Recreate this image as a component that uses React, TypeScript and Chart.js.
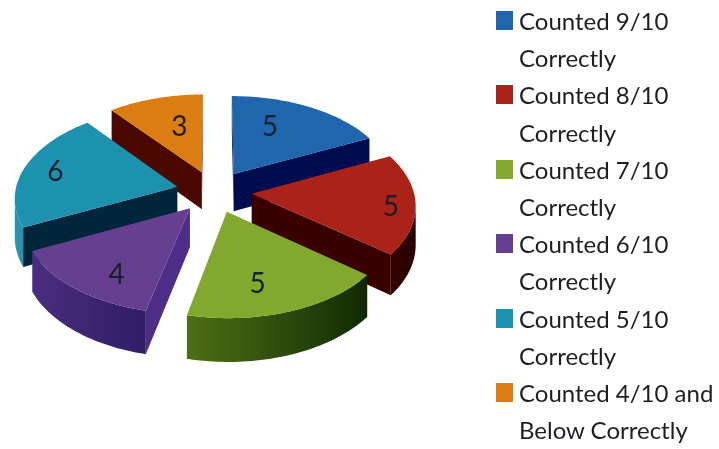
import React, { useEffect, useRef } from "react";
import { Chart, registerables } from "chart.js";

Chart.register(...registerables);

// Survey results, clockwise from twelve o'clock.
const categories = [
  ["Counted 9/10", "Correctly"],
  ["Counted 8/10", "Correctly"],
  ["Counted 7/10", "Correctly"],
  ["Counted 6/10", "Correctly"],
  ["Counted 5/10", "Correctly"],
  ["Counted 4/10 and", "Below Correctly"],
];
const counts = [5, 5, 5, 4, 6, 3];

// Slice palette: top face, flat cut wall, curved rim at left-lit and right-shaded ends.
const topColors = ["#1f66ad", "#aa2218", "#82a82d", "#673f91", "#1d92af", "#dc7d12"];
const wallColors = ["#000c50", "#3a0000", "#1a3a00", "#4d2d87", "#00263c", "#4a0800"];
const rimLeft = [[20, 60, 130], [138, 24, 16], [124, 165, 32], [78, 48, 130], [44, 150, 175], [130, 60, 0]];
const rimRight = [[0, 10, 60], [40, 0, 0], [2, 27, 0], [0, 0, 58], [0, 30, 50], [60, 10, 0]];

// Where each count sits on its slice, in pie-radius units from the slice tip.
const labelSpots = [[0.25, -0.58], [0.84, 0.14], [0.165, 0.7], [-0.4, 0.66], [-0.775, -0.17], [-0.155, -0.56]];

// Tilted view of the pie.
const SQUASH_X = 0.945;
const SQUASH_Y = 0.525;
const PERSPECTIVE = 0.1086;
const DEPTH = 38;
const SLICE_OFFSET = 40;

type Pt = { x: number; y: number; s: number };

const tiltedPie = {
  id: "tiltedPie",
  beforeDatasetDraw(chart: any, args: any) {
    const { ctx } = chart;
    const arcs = args.meta.data;

    const geometry = arcs.map((arc: any, i: number) => {
      const { x, y, startAngle, endAngle, outerRadius: R } = arc.getProps(
        ["x", "y", "startAngle", "endAngle", "outerRadius"],
        true
      );
      const mid = (startAngle + endAngle) / 2;
      const e = SLICE_OFFSET / R;
      const tipU = e * Math.cos(mid);
      const tipV = e * Math.sin(mid);
      const project = (u: number, v: number): Pt => {
        const s = 1 / (1 - PERSPECTIVE * v);
        return { x: x + R * SQUASH_X * u * s, y: y + R * SQUASH_Y * v * s, s };
      };
      const steps = 48;
      const rim: { p: Pt; nx: number }[] = [];
      for (let k = 0; k <= steps; k++) {
        const a = startAngle + ((endAngle - startAngle) * k) / steps;
        rim.push({ p: project(tipU + Math.cos(a), tipV + Math.sin(a)), nx: Math.cos(a) });
      }
      return { i, tipU, tipV, project, tip: project(tipU, tipV), rim, depthKey: Math.sin(mid) };
    });

    const flatWall = (a: Pt, b: Pt, fill: string) => {
      if (b.x >= a.x) return; // faces away from the viewer
      ctx.beginPath();
      ctx.moveTo(a.x, a.y);
      ctx.lineTo(b.x, b.y);
      ctx.lineTo(b.x, b.y + DEPTH * b.s);
      ctx.lineTo(a.x, a.y + DEPTH * a.s);
      ctx.closePath();
      ctx.fillStyle = fill;
      ctx.fill();
    };

    // The visible part of a slice's rim, shaded left to right as one surface.
    const rimWall = (i: number, rim: { p: Pt; nx: number }[]) => {
      const front = rim.filter((r, k) => {
        const next = rim[k + 1] || rim[k];
        const prev = rim[k - 1] || rim[k];
        return next.p.x < r.p.x || prev.p.x > r.p.x;
      });
      if (front.length < 2) return;
      const x0 = front[front.length - 1].p.x;
      const x1 = front[0].p.x;
      const shade = ctx.createLinearGradient(x0, 0, x1, 0);
      front.forEach((r, k) => {
        if (k % 4 !== 0 && k !== front.length - 1) return;
        const t = (r.nx + 1) / 2;
        const c = rimLeft[i].map((v: number, n: number) => Math.round(v + (rimRight[i][n] - v) * t));
        shade.addColorStop((r.p.x - x0) / (x1 - x0), `rgb(${c[0]},${c[1]},${c[2]})`);
      });
      ctx.beginPath();
      front.forEach((r, k) => (k ? ctx.lineTo(r.p.x, r.p.y) : ctx.moveTo(r.p.x, r.p.y)));
      [...front].reverse().forEach((r) => ctx.lineTo(r.p.x, r.p.y + DEPTH * r.p.s));
      ctx.closePath();
      ctx.fillStyle = shade;
      ctx.fill();
    };

    // Paint far slices first so nearer ones overlap them.
    [...geometry]
      .sort((a: any, b: any) => a.depthKey - b.depthKey)
      .forEach((g: any) => {
        const { i, rim, tip } = g;
        rimWall(i, rim);
        flatWall(tip, rim[0].p, wallColors[i]);
        flatWall(rim[rim.length - 1].p, tip, wallColors[i]);

        ctx.beginPath();
        ctx.moveTo(tip.x, tip.y);
        rim.forEach((r: any) => ctx.lineTo(r.p.x, r.p.y));
        ctx.closePath();
        ctx.fillStyle = topColors[i];
        ctx.fill();
      });

    // Counts on the top faces.
    ctx.font = '28px Lato, "Open Sans", sans-serif';
    ctx.textAlign = "center";
    ctx.textBaseline = "middle";
    ctx.fillStyle = "#15202c";
    geometry.forEach((g: any) => {
      const [du, dv] = labelSpots[g.i];
      const p = g.project(g.tipU + du, g.tipV + dv);
      ctx.fillText(String(counts[g.i]), p.x, p.y);
    });
    return false;
  },
};

export default function App() {
  const ref = useRef<HTMLCanvasElement>(null);

  useEffect(() => {
    const chart = new Chart(ref.current as HTMLCanvasElement, {
      type: "pie",
      data: {
        labels: categories.map((c) => c.join(" ")),
        datasets: [{ data: counts, backgroundColor: topColors, borderWidth: 0, offset: SLICE_OFFSET }],
      },
      options: {
        responsive: false,
        animation: false,
        layout: { padding: { left: 22, top: 0, right: 313, bottom: 66 } },
        plugins: { legend: { display: false }, tooltip: { enabled: false } },
      },
      plugins: [tiltedPie],
    } as any);
    return () => chart.destroy();
  }, []);

  return (
    <div style={{ position: "absolute", left: 0, top: 0, width: 719, height: 449, background: "#fff", overflow: "hidden" }}>
      <canvas ref={ref} width={719} height={449} style={{ position: "absolute", left: 0, top: 0 }} />
      {categories.map((lines, i) => (
        <React.Fragment key={lines[0]}>
          <div
            style={{
              position: "absolute",
              left: 496,
              top: 11 + i * 74.4,
              width: 17,
              height: 19,
              background: topColors[i],
            }}
          />
          {lines.map((line, n) => (
            <div
              key={line}
              style={{
                position: "absolute",
                left: 519,
                top: 2 + (i * 2 + n) * 37.2,
                height: 37,
                lineHeight: "37px",
                whiteSpace: "nowrap",
                fontFamily: 'Lato, "Open Sans", sans-serif',
                fontSize: 24,
                color: "#1c1f24",
              }}
            >
              {line}
            </div>
          ))}
        </React.Fragment>
      ))}
    </div>
  );
}
